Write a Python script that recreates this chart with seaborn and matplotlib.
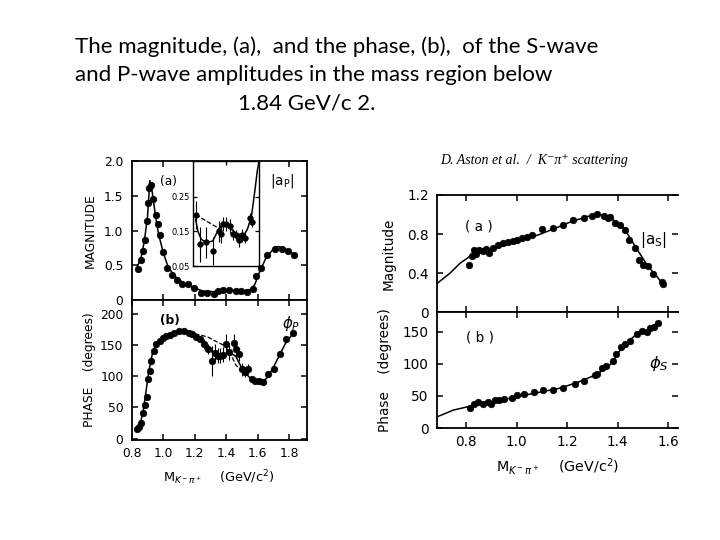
import numpy as np
import pandas as pd
import seaborn as sns
from matplotlib import pyplot as plt

### P-wave magnitude |a_P| (left, panel a) ###
magP_m = [0.838, 0.856, 0.870, 0.886, 0.897, 0.906, 0.912, 0.925, 0.937, 0.953, 0.964, 0.976,
          0.999, 1.021, 1.056, 1.085, 1.120, 1.154, 1.196, 1.240, 1.280, 1.320, 1.350, 1.380,
          1.420, 1.460, 1.490, 1.530, 1.567, 1.590, 1.620, 1.660, 1.710, 1.750, 1.790, 1.830]
magP = [0.45, 0.58, 0.70, 0.86, 1.13, 1.39, 1.61, 1.66, 1.46, 1.22, 1.09, 0.93,
        0.69, 0.46, 0.36, 0.29, 0.23, 0.225, 0.17, 0.10, 0.10, 0.09, 0.13, 0.15,
        0.14, 0.13, 0.13, 0.12, 0.16, 0.34, 0.46, 0.65, 0.74, 0.74, 0.70, 0.65]
magP_fit_m = [0.83, 0.86, 0.88, 0.90, 0.915, 0.93, 0.95, 0.97, 1.00, 1.03, 1.07, 1.12, 1.18,
              1.25, 1.32, 1.38, 1.44, 1.50, 1.55, 1.58, 1.61, 1.65, 1.70, 1.73, 1.77, 1.82]
magP_fit = [0.45, 0.62, 0.85, 1.20, 1.72, 1.55, 1.22, 0.95, 0.68, 0.48, 0.35, 0.26, 0.19,
            0.13, 0.12, 0.15, 0.14, 0.13, 0.15, 0.22, 0.40, 0.60, 0.74, 0.77, 0.74, 0.67]

### inset: |a_P| zoomed 1.2 - 1.6 ###
ins_m = [1.216, 1.240, 1.280, 1.320, 1.355, 1.370, 1.380, 1.400, 1.425, 1.445, 1.460, 1.480,
         1.500, 1.515, 1.545, 1.560]
ins_v = [0.198, 0.112, 0.118, 0.093, 0.150, 0.142, 0.172, 0.172, 0.165, 0.141, 0.140, 0.124,
         0.138, 0.132, 0.188, 0.178]
ins_err = [0.04, 0.05, 0.045, 0.04, 0.03, 0.025, 0.02, 0.02, 0.02, 0.015, 0.015, 0.02,
           0.02, 0.015, 0.015, 0.015]
ins_fit_m = [1.216, 1.230, 1.250, 1.280, 1.320, 1.350, 1.380, 1.410, 1.440, 1.480, 1.510,
             1.530, 1.555, 1.575, 1.590, 1.600]
ins_fit = [0.185, 0.150, 0.127, 0.118, 0.122, 0.151, 0.171, 0.166, 0.153, 0.137, 0.140,
           0.156, 0.195, 0.267, 0.325, 0.352]
ins_dash_m = [1.216, 1.280, 1.340, 1.360]
ins_dash = [0.198, 0.180, 0.163, 0.160]

### P-wave phase (left, panel b) ###
phP_m = [0.831, 0.846, 0.858, 0.869, 0.883, 0.894, 0.904, 0.917, 0.925, 0.942, 0.956, 0.977,
         0.998, 1.020, 1.040, 1.070, 1.100, 1.130, 1.160, 1.180, 1.206, 1.233, 1.260, 1.285,
         1.310, 1.330, 1.345, 1.360, 1.380, 1.400, 1.420, 1.446, 1.460, 1.480, 1.500, 1.520,
         1.540, 1.560, 1.580, 1.610, 1.630, 1.665, 1.700, 1.740, 1.780, 1.820]
phP = [15, 19, 25, 41, 54, 67, 95, 108, 124, 140, 152, 156,
       161, 165, 166, 169, 172, 172, 169, 167, 163, 159, 151, 143,
       124, 137, 133, 133, 134, 152, 138, 153, 144, 135, 111, 107,
       111, 95, 93, 92, 90, 103, 111, 136, 159, 169]
phP_err = [0, 0, 0, 0, 0, 0, 0, 0, 0, 0, 0, 0,
           0, 0, 0, 0, 0, 0, 0, 0, 4, 5, 8, 8,
           24, 14, 12, 12, 12, 15, 12, 14, 12, 10, 10, 8,
           8, 5, 4, 4, 4, 4, 4, 4, 4, 4]
phP_fit_m = [0.83, 0.85, 0.87, 0.89, 0.91, 0.93, 0.95, 0.98, 1.02, 1.07, 1.12, 1.17, 1.22,
             1.26, 1.30, 1.34, 1.38, 1.42, 1.46, 1.50, 1.54, 1.58, 1.62, 1.66, 1.70, 1.74,
             1.78, 1.83]
phP_fit = [15, 22, 40, 75, 110, 135, 150, 158, 164, 169, 172, 170, 163,
           153, 140, 134, 134, 138, 132, 112, 100, 90, 88, 98, 115, 135,
           155, 170]
phP_dash_m = [1.20, 1.28, 1.34, 1.38, 1.42, 1.46, 1.50]
phP_dash = [168, 163, 155, 150, 140, 118, 108]

### S-wave magnitude |a_S| (right, panel a) ###
magS_m = [0.813, 0.823, 0.830, 0.840, 0.850, 0.866, 0.880, 0.890, 0.905, 0.925, 0.945, 0.965,
          0.985, 1.000, 1.020, 1.040, 1.060, 1.100, 1.145, 1.185, 1.225, 1.265, 1.300, 1.320,
          1.345, 1.360, 1.370, 1.390, 1.410, 1.430, 1.445, 1.470, 1.486, 1.500, 1.520, 1.540,
          1.575, 1.580]
magS = [0.48, 0.57, 0.64, 0.60, 0.64, 0.63, 0.65, 0.61, 0.66, 0.69, 0.71, 0.72,
        0.73, 0.74, 0.76, 0.77, 0.79, 0.85, 0.86, 0.895, 0.94, 0.965, 0.985, 1.00,
        0.985, 0.965, 0.975, 0.91, 0.895, 0.84, 0.74, 0.655, 0.535, 0.485, 0.47, 0.39,
        0.31, 0.29]
magS_fit_m = [0.684, 0.737, 0.776, 0.815, 0.870, 0.950, 1.020, 1.085, 1.145, 1.210, 1.280,
              1.330, 1.370, 1.425, 1.480, 1.520, 1.560, 1.585]
magS_fit = [0.29, 0.40, 0.50, 0.57, 0.62, 0.68, 0.74, 0.79, 0.85, 0.92, 0.98,
            1.00, 0.97, 0.86, 0.63, 0.47, 0.35, 0.26]

### S-wave phase (right, panel b) ###
phS_m = [0.816, 0.830, 0.846, 0.866, 0.886, 0.900, 0.913, 0.930, 0.950, 0.980, 1.000, 1.030,
         1.070, 1.105, 1.145, 1.185, 1.230, 1.265, 1.310, 1.320, 1.340, 1.355, 1.380, 1.395,
         1.415, 1.430, 1.450, 1.475, 1.495, 1.515, 1.530, 1.545, 1.560]
phS = [31, 38, 40, 38, 40, 38, 43, 44, 46, 47.5, 51, 53,
       55.6, 59, 60, 63, 69, 74, 83, 84, 94, 96, 104, 115,
       127, 131, 136, 146, 151, 150, 156, 158, 164]
phS_fit_m = [0.687, 0.750, 0.816, 0.900, 0.990, 1.080, 1.170, 1.240, 1.320, 1.380, 1.415,
             1.465, 1.520, 1.560]
phS_fit = [17.7, 28, 34, 40, 48, 55, 62, 71, 84, 102, 125, 143, 153, 165]

### style ###
sns.set_theme(style='ticks')
plt.rcParams['font.family'] = ['DejaVu Sans']
plt.rcParams['axes.linewidth'] = 1.3
plt.rcParams['xtick.direction'] = 'in'
plt.rcParams['ytick.direction'] = 'in'
for k in ['text.color', 'axes.labelcolor', 'xtick.color', 'ytick.color', 'axes.edgecolor']:
    plt.rcParams[k] = 'black'

fig = plt.figure(figsize=(7.2, 5.4), dpi=100)
fs_l = 8.8   # left (scanned) figure
fs_r = 9.8   # right figure
kw_pts = dict(color='black', s=22, edgecolor='black', linewidth=0.5, legend=False)
kw_fit = dict(color='black', linewidth=1.1, sort=False, estimator=None)


def style(ax, xlim, ylim, yticks, xticks, fs):
    ax.set_xlim(*xlim)
    ax.set_ylim(*ylim)
    ax.set_yticks(yticks)
    ax.set_xticks(xticks)
    ax.tick_params(top=True, right=True, length=4, width=1.1, labelsize=fs)
    ax.tick_params(axis='y', pad=6)
    ax.tick_params(axis='x', pad=5)
    ax.set_xlabel('')
    ax.set_ylabel('')


# left, magnitude
ax1 = fig.add_axes([0.183, 0.4444, 0.243, 0.2574])
sns.lineplot(x=magP_fit_m, y=magP_fit, ax=ax1, **kw_fit)
sns.scatterplot(x=magP_m, y=magP, ax=ax1, **kw_pts)
style(ax1, (0.8, 1.91), (0, 2.0), [0, 0.5, 1.0, 1.5, 2.0], [1.0, 1.2, 1.4, 1.6, 1.8], fs_l)
ax1.set_yticklabels(['0', '0.5', '1.0', '1.5', '2.0'])
ax1.set_xticklabels([])
ax1.set_ylabel('MAGNITUDE', fontsize=fs_l, labelpad=5)
ax1.text(0.16, 0.83, '(a)', transform=ax1.transAxes, fontsize=fs_l)
ax1.text(0.79, 0.83, '|a$_{\\mathregular{P}}$|', transform=ax1.transAxes, fontsize=fs_l + 1)

# inset
axi = fig.add_axes([0.268, 0.5074, 0.0917, 0.194])
axi.errorbar(ins_m, ins_v, yerr=ins_err, fmt='none', ecolor='black', elinewidth=0.8)
sns.lineplot(x=ins_fit_m, y=ins_fit, ax=axi, **kw_fit)
sns.lineplot(x=ins_dash_m, y=ins_dash, ax=axi, color='black', linewidth=0.9,
             linestyle='--', sort=False, estimator=None)
sns.scatterplot(x=ins_m, y=ins_v, ax=axi, color='black', s=16, edgecolor='black',
                linewidth=0.5, legend=False)
axi.set_xlim(1.2, 1.6)
axi.set_ylim(0.05, 0.352)
axi.set_yticks([0.05, 0.15, 0.25])
axi.set_yticklabels(['0.05', '0.15', '0.25'])
axi.set_xticks([1.4])
axi.set_xticklabels([])
axi.tick_params(top=True, right=True, bottom=False, length=3, width=0.9, labelsize=6, pad=2)
for s in axi.spines.values():
    s.set_linewidth(1.0)

# left, phase
ax2 = fig.add_axes([0.183, 0.1852, 0.243, 0.2593])
ax2.errorbar(phP_m, phP, yerr=phP_err, fmt='none', ecolor='black', elinewidth=0.8)
sns.lineplot(x=phP_fit_m, y=phP_fit, ax=ax2, **kw_fit)
sns.lineplot(x=phP_dash_m, y=phP_dash, ax=ax2, color='black', linewidth=0.9,
             linestyle='--', sort=False, estimator=None)
sns.scatterplot(x=phP_m, y=phP, ax=ax2, **kw_pts)
style(ax2, (0.8, 1.91), (-2, 222), [0, 50, 100, 150, 200], [0.8, 1.0, 1.2, 1.4, 1.6, 1.8], fs_l)
ax2.set_xticklabels(['0.8', '1.0', '1.2', '1.4', '1.6', '1.8'])
ax2.set_ylabel('PHASE    (degrees)', fontsize=fs_l, labelpad=3)
ax2.set_xlabel('M$_{K^-\\pi^+}$    (GeV/c$^2$)', fontsize=fs_l + 0.5, labelpad=6)
ax2.text(0.16, 0.83, '(b)', transform=ax2.transAxes, fontsize=fs_l, fontweight='bold')
ax2.text(0.86, 0.80, '$\\phi_P$', transform=ax2.transAxes, fontsize=fs_l + 2)

# right, magnitude
ax3 = fig.add_axes([0.607, 0.4222, 0.335, 0.2167])
sns.lineplot(x=magS_fit_m, y=magS_fit, ax=ax3, **kw_fit)
sns.scatterplot(x=magS_m, y=magS, ax=ax3, **kw_pts)
style(ax3, (0.685, 1.64), (0, 1.2), [0, 0.4, 0.8, 1.2], [0.8, 1.0, 1.2, 1.4, 1.6], fs_r)
ax3.set_yticklabels(['0', '0.4', '0.8', '1.2'])
ax3.set_xticklabels([])
ax3.spines['right'].set_visible(False)
ax3.set_ylabel('Magnitude', fontsize=fs_r, labelpad=8)
ax3.text(0.115, 0.70, '( a )', transform=ax3.transAxes, fontsize=fs_r)
ax3.text(0.84, 0.58, '|a$_{\\mathregular{S}}$|', transform=ax3.transAxes, fontsize=fs_r + 1)
fig.text(0.742, 0.702, 'D. Aston et al.  /  K⁻π⁺ scattering', fontsize=10,
         family=['Liberation Serif', 'DejaVu Serif'], style='italic', ha='center', va='center')

# right, phase
ax4 = fig.add_axes([0.607, 0.2074, 0.335, 0.2148])
sns.lineplot(x=phS_fit_m, y=phS_fit, ax=ax4, **kw_fit)
sns.scatterplot(x=phS_m, y=phS, ax=ax4, **kw_pts)
style(ax4, (0.685, 1.64), (0, 181), [0, 50, 100, 150], [0.8, 1.0, 1.2, 1.4, 1.6], fs_r)
ax4.set_xticklabels(['0.8', '1.0', '1.2', '1.4', '1.6'])
ax4.spines['right'].set_visible(False)
ax4.set_ylabel('Phase    (degrees)', fontsize=fs_r, labelpad=8)
ax4.set_xlabel('M$_{K^-\\pi^+}$    (GeV/c$^2$)', fontsize=fs_r + 0.5, labelpad=5)
ax4.text(0.12, 0.75, '( b )', transform=ax4.transAxes, fontsize=fs_r)
ax4.text(0.88, 0.52, '$\\phi_S$', transform=ax4.transAxes, fontsize=fs_r + 2)

### title text ###
tkw = dict(fontsize=16, family=['Lato', 'DejaVu Sans'], va='center', ha='left', color='black')
fig.text(75 / 720, 1 - 47 / 540, 'The magnitude, (a),  and the phase, (b),  of the S-wave', **tkw)
fig.text(75 / 720, 1 - 75 / 540, 'and P-wave amplitudes in the mass region below', **tkw)
fig.text(238 / 720, 1 - 103 / 540, '1.84 GeV/c 2.', **tkw)

plt.savefig('out.png', dpi=100)
